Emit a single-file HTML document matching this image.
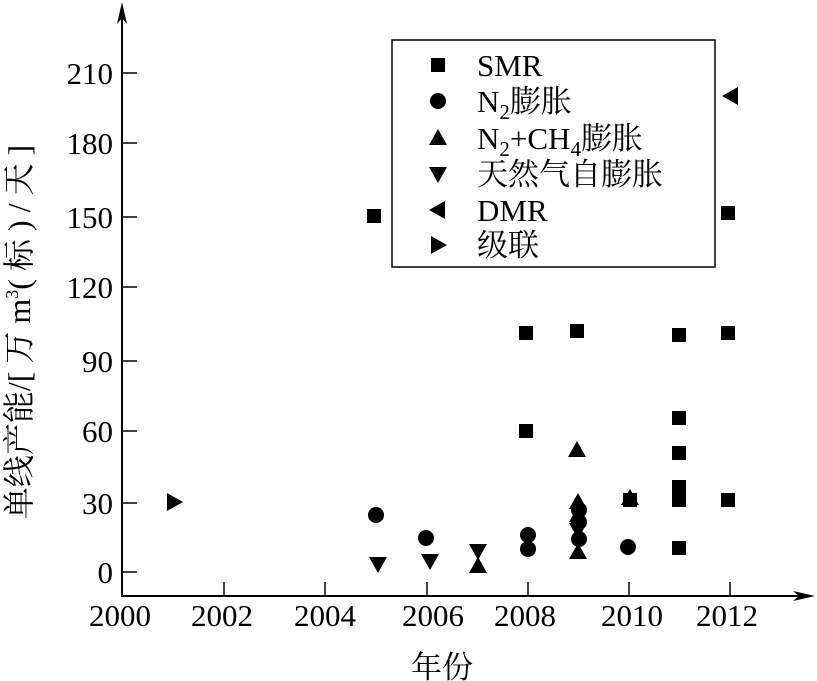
<!DOCTYPE html>
<html><head><meta charset="utf-8"><style>
html,body{margin:0;padding:0;background:#fff;}
svg{display:block;}
text{font-family:"Liberation Serif","Noto Serif CJK SC","Noto Sans CJK SC",serif;fill:#000;}
</style></head><body>
<svg width="817" height="681" viewBox="0 0 817 681" xmlns="http://www.w3.org/2000/svg">
<defs>
<rect id="sq" x="-7" y="-7" width="14" height="14"/>
<circle id="ci" r="8"/>
<polygon id="tu" points="0,-9 9,7 -9,7"/>
<polygon id="td" points="0,9 9,-7 -9,-7"/>
<polygon id="tl" points="-9,0 7,-9 7,9"/>
<polygon id="tr" points="9,0 -7,-9 -7,9"/>
</defs>
<line x1="122" y1="8" x2="122" y2="597" stroke="#000" stroke-width="2"/>
<polygon points="122,2 117,24 122,18 127,24" fill="#000"/>
<line x1="121" y1="596" x2="808" y2="596" stroke="#000" stroke-width="2"/>
<polygon points="815,596 793,591 799,596 793,601" fill="#000"/>
<g stroke="#000" stroke-width="1.5">
<line x1="122" y1="73" x2="137" y2="73"/>
<line x1="122" y1="143" x2="137" y2="143"/>
<line x1="122" y1="217" x2="137" y2="217"/>
<line x1="122" y1="287" x2="137" y2="287"/>
<line x1="122" y1="361" x2="137" y2="361"/>
<line x1="122" y1="431" x2="137" y2="431"/>
<line x1="122" y1="503" x2="137" y2="503"/>
<line x1="122" y1="572" x2="137" y2="572"/>
<line x1="224" y1="582" x2="224" y2="596"/>
<line x1="325" y1="582" x2="325" y2="596"/>
<line x1="427" y1="582" x2="427" y2="596"/>
<line x1="528" y1="582" x2="528" y2="596"/>
<line x1="629" y1="582" x2="629" y2="596"/>
<line x1="730" y1="582" x2="730" y2="596"/>
</g>
<g font-size="31" text-anchor="end">
<text x="113" y="84">210</text>
<text x="113" y="154">180</text>
<text x="113" y="228">150</text>
<text x="113" y="298">120</text>
<text x="113" y="372">90</text>
<text x="113" y="442">60</text>
<text x="113" y="514">30</text>
<text x="113" y="583">0</text>
</g>
<g font-size="31" text-anchor="middle">
<text x="120" y="626">2000</text>
<text x="222" y="626">2002</text>
<text x="325" y="626">2004</text>
<text x="433" y="626">2006</text>
<text x="525" y="626">2008</text>
<text x="632" y="626">2010</text>
<text x="727" y="626">2012</text>
</g>
<text x="442" y="678" font-size="31" text-anchor="middle">年份</text>
<text transform="translate(30,332) rotate(-90)" font-size="32" text-anchor="middle">单线产能/[ 万 m<tspan font-size="18" dy="-12">3</tspan><tspan dy="12">( 标 ) / 天 ]</tspan></text>
<rect x="392" y="40" width="323" height="227" fill="#fff" stroke="#000" stroke-width="1.5"/>
<use href="#sq" x="438" y="65"/>
<use href="#ci" x="438" y="101"/>
<use href="#tu" x="438" y="138"/>
<use href="#td" x="438" y="174"/>
<use href="#tl" x="438" y="210"/>
<use href="#tr" x="438" y="245"/>
<g font-size="31">
<text x="477" y="76">SMR</text>
<text x="477" y="112">N<tspan font-size="21" dy="7">2</tspan><tspan dy="-7">膨胀</tspan></text>
<text x="477" y="149">N<tspan font-size="21" dy="7">2</tspan><tspan dy="-7">+CH</tspan><tspan font-size="21" dy="7">4</tspan><tspan dy="-7">膨胀</tspan></text>
<text x="477" y="185">天然气自膨胀</text>
<text x="477" y="221">DMR</text>
<text x="477" y="256">级联</text>
</g>
<g>
<use href="#sq" x="374" y="216"/>
<use href="#sq" x="526" y="333"/>
<use href="#sq" x="526" y="431"/>
<use href="#sq" x="577" y="331"/>
<use href="#sq" x="679" y="335"/>
<use href="#sq" x="728" y="333"/>
<use href="#sq" x="679" y="418"/>
<use href="#sq" x="679" y="453"/>
<use href="#sq" x="679" y="487"/>
<use href="#sq" x="679" y="500"/>
<use href="#sq" x="679" y="548"/>
<use href="#sq" x="728" y="500"/>
<use href="#sq" x="728" y="213"/>
<use href="#sq" x="630" y="500"/>
<use href="#ci" x="376" y="515"/>
<use href="#ci" x="426" y="538"/>
<use href="#ci" x="528" y="535"/>
<use href="#ci" x="528" y="549"/>
<use href="#ci" x="628" y="547"/>
<use href="#ci" x="579" y="510"/>
<use href="#ci" x="579" y="522"/>
<use href="#ci" x="579" y="539"/>
<use href="#td" x="378" y="564"/>
<use href="#td" x="430" y="561"/>
<use href="#td" x="478" y="551"/>
<use href="#td" x="578" y="530"/>
<use href="#tu" x="478" y="566"/>
<use href="#tu" x="577" y="450"/>
<use href="#tu" x="578" y="502"/>
<use href="#tu" x="578" y="515"/>
<use href="#tu" x="578" y="552"/>
<use href="#tu" x="630" y="498"/>
<use href="#tl" x="731" y="96"/>
<use href="#tr" x="174" y="502"/>
</g>
</svg>
</body></html>
